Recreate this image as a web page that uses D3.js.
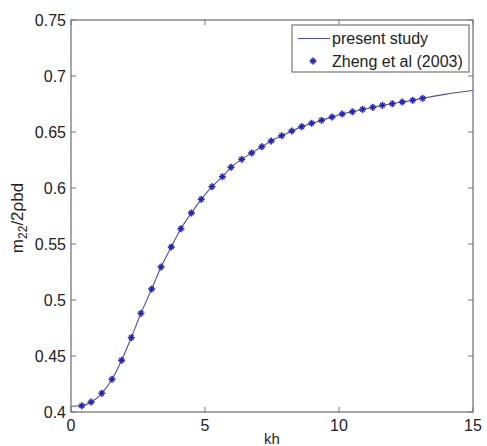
<!DOCTYPE html>
<html>
<head>
<meta charset="utf-8">
<script src="https://cdn.jsdelivr.net/npm/d3@7"></script>
<style>
  body { margin: 0; background: #fff; }
  svg { display: block; font-family: "Liberation Sans", Arial, sans-serif; }
</style>
</head>
<body>
<svg width="487" height="446"></svg>
<script>
// present study curve
const lineKh = [0, 0.40, 0.75, 1.15, 1.53, 1.89, 2.25, 2.61, 3.01, 3.36, 3.74, 4.10, 4.49, 4.86, 5.26, 5.65,
    5.97, 6.37, 6.74, 7.12, 7.47, 7.86, 8.24, 8.61, 8.98, 9.35, 9.74, 10.12, 10.50, 10.88, 11.26,
    11.62, 11.99, 12.36, 12.75, 13.12, 14.0, 15.0];
const lineM22 = [0.4052, 0.4056, 0.4089, 0.4167, 0.4292, 0.4462, 0.4664, 0.4881, 0.5098, 0.5295, 0.5473,
    0.5637, 0.5777, 0.5899, 0.6012, 0.6101, 0.6185, 0.6256, 0.6313, 0.6369, 0.6420, 0.6467, 0.6509,
    0.6548, 0.6578, 0.6604, 0.6634, 0.6661, 0.6681, 0.6702, 0.6720, 0.6738, 0.6753, 0.6768, 0.6783,
    0.6801, 0.6838, 0.6870];

// Zheng et al (2003)
const zhengKh = [0.40, 0.75, 1.15, 1.53, 1.89, 2.25, 2.61, 3.01, 3.36, 3.74, 4.10, 4.49, 4.86, 5.26, 5.65,
    5.97, 6.37, 6.74, 7.12, 7.47, 7.86, 8.24, 8.61, 8.98, 9.35, 9.74, 10.12, 10.50, 10.88, 11.26,
    11.62, 11.99, 12.36, 12.75, 13.12];
const zhengM22 = [0.4056, 0.4089, 0.4167, 0.4292, 0.4462, 0.4664, 0.4881, 0.5098, 0.5295, 0.5473,
    0.5637, 0.5777, 0.5899, 0.6012, 0.6101, 0.6185, 0.6256, 0.6313, 0.6369, 0.6420, 0.6467, 0.6509,
    0.6548, 0.6578, 0.6604, 0.6634, 0.6661, 0.6681, 0.6702, 0.6720, 0.6738, 0.6753, 0.6768, 0.6783,
    0.6801];

const xTicks = [0, 5, 10, 15];
const yTicks = [0.4, 0.45, 0.5, 0.55, 0.6, 0.65, 0.7, 0.75];
const legendLabels = ["present study", "Zheng et al (2003)"];

const plotLeft = 71, plotRight = 473, plotTop = 20, plotBottom = 412;
const tickLen = 5;
const axisColor = "#777";
const lineColor = "#5050a0";
const markerColor = "#2424b8";

const svg = d3.select("svg");

const x = d3.scaleLinear().domain([0, 15]).range([plotLeft, plotRight]);
const y = d3.scaleLinear().domain([0.4, 0.75]).range([plotBottom, plotTop]);

// box
svg.append("rect")
    .attr("x", plotLeft)
    .attr("y", plotTop)
    .attr("width", plotRight - plotLeft)
    .attr("height", plotBottom - plotTop)
    .attr("fill", "none")
    .attr("stroke", axisColor)
    .attr("stroke-width", 1.3);

// ticks, inward on all sides
const tickG = svg.append("g").attr("stroke", axisColor).attr("stroke-width", 1);
xTicks.forEach(t => {
    tickG.append("line").attr("x1", x(t)).attr("x2", x(t)).attr("y1", plotBottom).attr("y2", plotBottom - tickLen);
    tickG.append("line").attr("x1", x(t)).attr("x2", x(t)).attr("y1", plotTop).attr("y2", plotTop + tickLen);
});
yTicks.forEach(t => {
    tickG.append("line").attr("x1", plotLeft).attr("x2", plotLeft + tickLen).attr("y1", y(t)).attr("y2", y(t));
    tickG.append("line").attr("x1", plotRight).attr("x2", plotRight - tickLen).attr("y1", y(t)).attr("y2", y(t));
});

svg.append("g")
    .selectAll("text")
    .data(xTicks)
    .enter()
    .append("text")
    .attr("x", d => x(d))
    .attr("y", plotBottom + 19)
    .attr("text-anchor", "middle")
    .attr("font-size", 16)
    .attr("fill", "#222")
    .text(d => d);

svg.append("g")
    .selectAll("text")
    .data(yTicks)
    .enter()
    .append("text")
    .attr("x", plotLeft - 5)
    .attr("y", d => y(d))
    .attr("dy", "0.36em")
    .attr("text-anchor", "end")
    .attr("font-size", 16)
    .attr("fill", "#222")
    .text(d => d3.format("")(d));

// axis labels
svg.append("text")
    .attr("x", (plotLeft + plotRight) / 2)
    .attr("y", 444)
    .attr("text-anchor", "middle")
    .attr("font-size", 15)
    .attr("fill", "#222")
    .text("kh");

const yLabel = svg.append("text")
    .attr("transform", `translate(23, ${(plotTop + plotBottom) / 2 + 2}) rotate(-90)`)
    .attr("text-anchor", "middle")
    .attr("font-size", 17)
    .attr("fill", "#222");
yLabel.append("tspan").text("m");
yLabel.append("tspan").attr("font-size", 12).attr("dy", 4).text("22");
yLabel.append("tspan").attr("dy", -4).text("/2ρbd");

// curve
const line = d3.line()
    .x(i => x(lineKh[i]))
    .y(i => y(lineM22[i]))
    .curve(d3.curveMonotoneX);

svg.append("path")
    .attr("d", line(d3.range(lineKh.length)))
    .attr("fill", "none")
    .attr("stroke", lineColor)
    .attr("stroke-width", 1.1);

// asterisk markers
function marker(g, cx, cy) {
    const m = g.append("g").attr("transform", `translate(${cx},${cy})`)
        .attr("stroke", markerColor);
    m.append("line").attr("x1", -3.5).attr("x2", 3.5).attr("y1", 0).attr("y2", 0).attr("stroke-width", 1.6);
    m.append("line").attr("x1", 0).attr("x2", 0).attr("y1", -3.5).attr("y2", 3.5).attr("stroke-width", 1.6);
    m.append("line").attr("x1", -2.3).attr("x2", 2.3).attr("y1", -2.3).attr("y2", 2.3).attr("stroke-width", 1.3);
    m.append("line").attr("x1", -2.3).attr("x2", 2.3).attr("y1", 2.3).attr("y2", -2.3).attr("stroke-width", 1.3);
}

const markerG = svg.append("g");
zhengKh.forEach((k, i) => marker(markerG, x(k), y(zhengM22[i])));

// legend
const legend = svg.append("g");
legend.append("rect")
    .attr("x", 292)
    .attr("y", 25)
    .attr("width", 177)
    .attr("height", 47)
    .attr("fill", "#fff")
    .attr("stroke", axisColor)
    .attr("stroke-width", 1.2);

legend.append("line")
    .attr("x1", 298).attr("x2", 330)
    .attr("y1", 38.5).attr("y2", 38.5)
    .attr("stroke", lineColor)
    .attr("stroke-width", 1.1);
marker(legend, 313, 61);

legend.selectAll("text.lbl")
    .data(legendLabels)
    .enter()
    .append("text")
    .attr("class", "lbl")
    .attr("x", 332)
    .attr("y", (d, i) => 38.5 + i * 22.5)
    .attr("dy", "0.36em")
    .attr("font-size", 16)
    .attr("fill", "#222")
    .text(d => d);
</script>
</body>
</html>
